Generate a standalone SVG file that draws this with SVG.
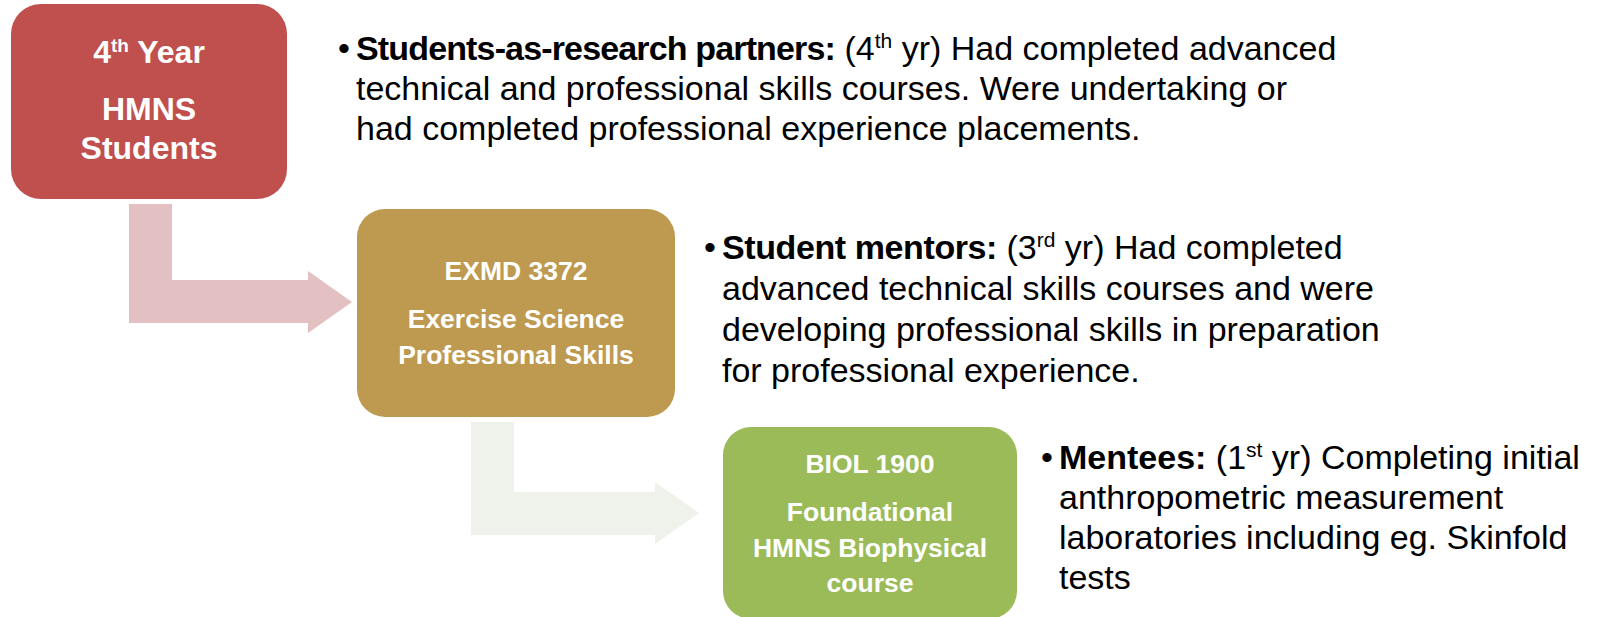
<svg xmlns="http://www.w3.org/2000/svg" width="1600" height="617" viewBox="0 0 1600 617">
  <style>
    .box-label { font-family: "Liberation Sans", Arial, sans-serif; font-weight: bold; fill: #ffffff; text-anchor: middle; }
    .body { font-family: "Liberation Sans", Arial, sans-serif; font-size: 34px; fill: #000000; }
    .bold { font-weight: bold; }
    .sup { font-size: 21px; }
  </style>
  <rect width="1600" height="617" fill="#ffffff"/>

  <!-- bent arrows between the stages -->
  <g id="connectors">
    <path id="arrow-year4-to-exmd" d="M129,204 H172 V280 H308 V271 L352,302 L308,333 V323 H129 Z" fill="#E3C1C3"/>
    <path id="arrow-exmd-to-biol" d="M471,422 H514 V492 H655 V482 L699,513 L655,544 V535 H471 Z" fill="#EFF2EA"/>
  </g>

  <g id="node-year4">
    <rect x="11" y="4" width="276" height="195" rx="30" ry="30" fill="#C0504D"/>
    <text class="box-label" font-size="32" x="149" y="63">4<tspan font-size="19" dy="-11">th</tspan><tspan dy="11"> Year</tspan></text>
    <text class="box-label" font-size="32" x="149" y="120">HMNS</text>
    <text class="box-label" font-size="32" x="149" y="159">Students</text>
  </g>

  <g id="node-exmd">
    <rect x="357" y="209" width="318" height="208" rx="28" ry="28" fill="#BE9A51"/>
    <text class="box-label" font-size="26.5" x="516" y="280">EXMD 3372</text>
    <text class="box-label" font-size="26.5" x="516" y="328">Exercise Science</text>
    <text class="box-label" font-size="26.5" x="516" y="364">Professional Skills</text>
  </g>

  <g id="node-biol">
    <rect x="723" y="427" width="294" height="192" rx="28" ry="28" fill="#9BBB59"/>
    <text class="box-label" font-size="26.5" x="870" y="473">BIOL 1900</text>
    <text class="box-label" font-size="26.5" x="870" y="521">Foundational</text>
    <text class="box-label" font-size="26.5" x="870" y="557">HMNS Biophysical</text>
    <text class="box-label" font-size="26.5" x="870" y="592">course</text>
  </g>

  <g id="desc-year4">
    <text class="body" x="338" y="60">•</text>
    <text class="body" x="356" y="60"><tspan class="bold" letter-spacing="-0.85">Students-as-research partners:</tspan> (4<tspan class="sup" dy="-12">th</tspan><tspan dy="12"> yr) Had completed advanced</tspan></text>
    <text class="body" x="356" y="100">technical and professional skills courses. Were undertaking or</text>
    <text class="body" x="356" y="140">had completed professional experience placements.</text>
  </g>

  <g id="desc-exmd">
    <text class="body" x="704" y="259">•</text>
    <text class="body" x="722" y="259"><tspan class="bold" letter-spacing="-0.4">Student mentors:</tspan> (3<tspan class="sup" dy="-12">rd</tspan><tspan dy="12"> yr) Had completed</tspan></text>
    <text class="body" x="722" y="300">advanced technical skills courses and were</text>
    <text class="body" x="722" y="341">developing professional skills in preparation</text>
    <text class="body" x="722" y="382">for professional experience.</text>
  </g>

  <g id="desc-biol">
    <text class="body" x="1041" y="469">•</text>
    <text class="body" x="1059" y="469"><tspan class="bold">Mentees:</tspan> (1<tspan class="sup" dy="-12">st</tspan><tspan dy="12"> yr) Completing initial</tspan></text>
    <text class="body" x="1059" y="509">anthropometric measurement</text>
    <text class="body" x="1059" y="549">laboratories including eg. Skinfold</text>
    <text class="body" x="1059" y="589">tests</text>
  </g>
</svg>
